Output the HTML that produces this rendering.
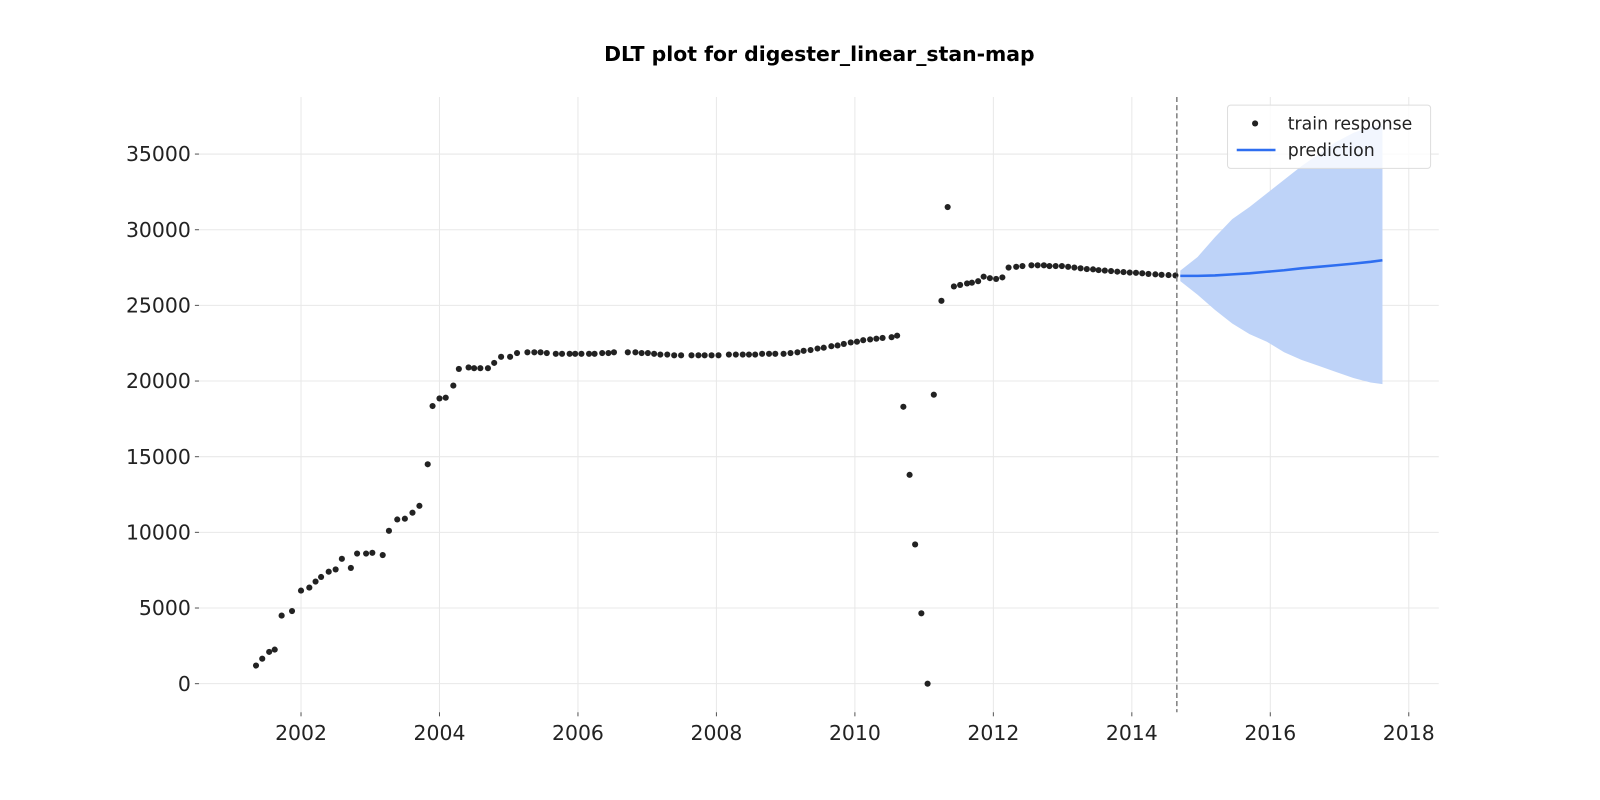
<!DOCTYPE html>
<html><head><meta charset="utf-8">
<style>
body{margin:0;background:#fff;font-family:"Liberation Sans","DejaVu Sans",sans-serif;}
svg{display:block}
</style></head>
<body>
<svg id="chart" width="1600" height="800" xmlns="http://www.w3.org/2000/svg">
<g transform="scale(1.0204)">
<text x="803" y="60" text-anchor="middle" font-size="20" font-weight="bold" font-family="DejaVu Sans, Liberation Sans, sans-serif" fill="#000">DLT plot for digester_linear_stan-map</text>
<g id="grid"></g>
<g id="band"></g>
<g id="points"></g>
<g id="pred"></g>
<g id="axes"></g>
<g>
<rect x="1203" y="103" width="199" height="62" rx="3" fill="#fff" fill-opacity="0.8" stroke="#ddd"/>
<circle cx="1230" cy="121" r="3" fill="#222"/>
<text x="1262" y="127" font-size="17" font-family="DejaVu Sans, Liberation Sans, sans-serif" fill="#222">train response</text>
<line x1="1212" y1="147" x2="1250" y2="147" stroke="#2e6ef0" stroke-width="2.5"/>
<text x="1262" y="153" font-size="17" font-family="DejaVu Sans, Liberation Sans, sans-serif" fill="#222">prediction</text>
</g>
</g>
</svg>
<script>
const trainDates=[2001.35,2001.44,2001.54,2001.62,2001.72,2001.87,2002.0,2002.12,2002.21,2002.29,2002.40,2002.50,2002.59,2002.72,2002.81,2002.94,2003.03,2003.18,2003.27,2003.39,2003.50,2003.61,2003.71,2003.83,2003.90,2004.00,2004.09,2004.20,2004.28,2004.42,2004.50,2004.59,2004.70,2004.79,2004.89,2005.02,2005.12,2005.27,2005.37,2005.46,2005.55,2005.68,2005.77,2005.88,2005.96,2006.05,2006.16,2006.24,2006.35,2006.44,2006.52,2006.72,2006.83,2006.92,2007.01,2007.10,2007.19,2007.29,2007.39,2007.49,2007.64,2007.74,2007.83,2007.93,2008.03,2008.18,2008.28,2008.38,2008.47,2008.56,2008.66,2008.76,2008.85,2008.97,2009.07,2009.17,2009.26,2009.36,2009.46,2009.55,2009.66,2009.75,2009.84,2009.94,2010.03,2010.12,2010.22,2010.31,2010.40,2010.53,2010.61,2010.70,2010.79,2010.87,2010.96,2011.05,2011.14,2011.25,2011.34,2011.43,2011.52,2011.62,2011.69,2011.78,2011.86,2011.95,2012.04,2012.13,2012.22,2012.33,2012.42,2012.55,2012.64,2012.73,2012.81,2012.90,2012.99,2013.08,2013.17,2013.26,2013.35,2013.44,2013.52,2013.61,2013.70,2013.79,2013.88,2013.97,2014.06,2014.15,2014.24,2014.34,2014.43,2014.53,2014.63];
const trainValues=[1200,1650,2100,2250,4500,4800,6150,6350,6750,7050,7400,7550,8250,7650,8600,8600,8650,8500,10100,10850,10900,11300,11750,14500,18350,18850,18900,19700,20800,20900,20850,20850,20850,21200,21600,21600,21850,21900,21900,21900,21850,21800,21800,21800,21800,21800,21800,21800,21850,21850,21900,21900,21900,21850,21850,21800,21750,21750,21700,21700,21700,21700,21700,21700,21700,21750,21750,21750,21750,21750,21800,21800,21800,21800,21850,21900,22000,22050,22150,22200,22300,22350,22450,22550,22600,22700,22750,22800,22850,22900,23000,18300,13800,9200,4650,0,19100,25300,31500,26250,26350,26450,26500,26600,26900,26800,26750,26850,27500,27550,27600,27650,27650,27650,27600,27600,27600,27550,27500,27450,27400,27380,27330,27300,27270,27230,27200,27170,27150,27120,27080,27050,27020,27000,26980];
const predDates=[2014.70,2014.95,2015.20,2015.45,2015.70,2015.95,2016.20,2016.45,2016.70,2016.95,2017.20,2017.45,2017.62];
const predValues=[26950,26950,26980,27050,27120,27220,27320,27450,27550,27650,27760,27880,27980];
const upperValues=[27300,28200,29500,30700,31500,32400,33300,34200,35000,35800,36400,36800,36900];
const lowerValues=[26600,25700,24700,23800,23100,22600,21900,21400,21000,20600,20200,19900,19800];
const xTicks=[2002,2004,2006,2008,2010,2012,2014,2016,2018];
const yTicks=[0,5000,10000,15000,20000,25000,30000,35000];
const cutoffDate=2014.65;

const X0=195,X1=1410,Y0=95,Y1=698;
const xScale=t=>295+(t-2002)*67.85;
const yScale=v=>670-v*0.014829;
const NS="http://www.w3.org/2000/svg";
function mk(tag,attrs,parent){const e=document.createElementNS(NS,tag);for(const k in attrs)e.setAttribute(k,attrs[k]);parent.appendChild(e);return e;}
const grid=document.getElementById('grid'),axes=document.getElementById('axes');
xTicks.forEach(t=>{
  const x=xScale(t);
  const l=mk('line',{x1:x,x2:x,y1:Y0,y2:Y1,stroke:'#e8e8e8','stroke-width':1},grid);
  
  
  const tk=mk('line',{x1:x,x2:x,y1:Y1,y2:Y1+4,stroke:'#555'},axes);
  
  
  const tx=mk('text',{x:x,y:725,'text-anchor':'middle','font-size':20,'font-family':'DejaVu Sans, Liberation Sans, sans-serif',fill:'#222'},axes);
  tx.textContent=t;
  
  
});
yTicks.forEach(v=>{
  const y=yScale(v);
  const l=mk('line',{x1:X0,x2:X1,y1:y,y2:y,stroke:'#e8e8e8','stroke-width':1},grid);
  
  
  const tk=mk('line',{x1:X0-4,x2:X0,y1:y,y2:y,stroke:'#555'},axes);
  
  
  const tx=mk('text',{x:187,y:y+7,'text-anchor':'end','font-size':20,'font-family':'DejaVu Sans, Liberation Sans, sans-serif',fill:'#222'},axes);
  tx.textContent=v;
  
  
});
let d='M'+predDates.map((t,i)=>xScale(t)+','+yScale(upperValues[i])).join('L');
for(let i=predDates.length-1;i>=0;i--)d+='L'+xScale(predDates[i])+','+yScale(lowerValues[i]);
const band=mk('path',{d:d+'Z',fill:'#bed3f8'},document.getElementById('band'));


const pts=document.getElementById('points');
const n=Math.min(trainDates.length,trainValues.length);
for(let i=0;i<n;i++){
  const c=mk('circle',{cx:xScale(trainDates[i]),cy:yScale(trainValues[i]),r:3,fill:'#222'},pts);
  
  
}
const pl=mk('polyline',{points:predDates.map((t,i)=>xScale(t)+','+yScale(predValues[i])).join(' '),fill:'none',stroke:'#2e6ef0','stroke-width':2.5},document.getElementById('pred'));


const cx=xScale(cutoffDate);
const cl=mk('line',{x1:cx,x2:cx,y1:Y0,y2:Y1,stroke:'#808080','stroke-width':1.5,'stroke-dasharray':'5,3'},axes);


</script>
</body></html>
